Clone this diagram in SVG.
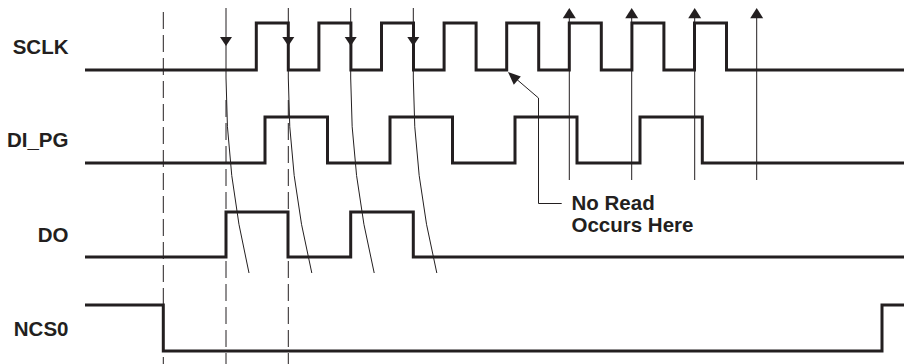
<svg xmlns="http://www.w3.org/2000/svg" width="904" height="364" viewBox="0 0 904 364">
<defs>
<style>
.sig{fill:none;stroke:#231f20;stroke-width:3;stroke-linejoin:miter}
.thin{fill:none;stroke:#231f20;stroke-width:1}
.dash{fill:none;stroke:#231f20;stroke-width:1;stroke-dasharray:17 6}
.lbl{font-family:"Liberation Sans",Arial,sans-serif;font-weight:bold;font-size:20.5px;fill:#231f20}
.ah{fill:#231f20}
</style>
</defs>
<rect width="904" height="364" fill="#ffffff"/>
<g id="SCLK">
<text class="lbl" x="68.5" y="54" text-anchor="end">SCLK</text>
<path class="sig" d="M85,70 H256.3 V23 H288.3 V70 H318.9 V23 H350.9 V70 H381.5 V23 H413.5 V70 H444.1 V23 H476.1 V70 H506.7 V23 H538.7 V70 H569.3 V23 H601.3 V70 H631.9 V23 H663.9 V70 H694.5 V23 H726.5 V70 H904"/>
</g>
<g id="DI_PG">
<text class="lbl" x="68.5" y="147.3" text-anchor="end">DI_PG</text>
<path class="sig" d="M85,163 H265 V117 H327.5 V163 H390 V117 H452.5 V163 H515 V117 H577 V163 H640 V117 H702.3 V163 H904"/>
</g>
<g id="DO">
<text class="lbl" x="68.5" y="242.3" text-anchor="end">DO</text>
<path class="sig" d="M85,257 H226 V212 H288 V257 H350.7 V212 H413.3 V257 H904"/>
</g>
<g id="NCS0">
<text class="lbl" x="68.5" y="336" text-anchor="end">NCS0</text>
<path class="sig" d="M85,305 H163.3 V351 H882 V305 H904"/>
</g>
<g id="note">
<text class="lbl" x="571.5" y="210">No Read</text>
<text class="lbl" x="571.5" y="231.7">Occurs Here</text>
</g>
<g id="connectors">
<path class="dash" d="M163.3,12 V364"/>
<path class="dash" d="M226,100 V364"/>
<path class="dash" d="M288.3,100 V364"/>
<path class="thin" d="M226,8 V78 Q226,175.5 249,273"/>
<path class="thin" d="M288.3,8 V78 Q288.3,175.5 311.8,273"/>
<path class="thin" d="M350.7,8 V78 Q350.7,175.5 374.2,273"/>
<path class="thin" d="M413.3,8 V78 Q413.3,175.5 436.8,273"/>
<polygon class="ah" points="220,37 232,37 226,46"/>
<polygon class="ah" points="282.3,37 294.3,37 288.3,46"/>
<polygon class="ah" points="344.7,37 356.7,37 350.7,46"/>
<polygon class="ah" points="407.3,37 419.3,37 413.3,46"/>
<path class="thin" d="M569.3,17 V180"/>
<path class="thin" d="M631.7,17 V180"/>
<path class="thin" d="M694.7,17 V180"/>
<path class="thin" d="M756.7,17 V180"/>
<polygon class="ah" points="569.3,8 562.8,18.3 575.8,18.3"/>
<polygon class="ah" points="631.7,8 625.2,18.3 638.2,18.3"/>
<polygon class="ah" points="694.7,8 688.2,18.3 701.2,18.3"/>
<polygon class="ah" points="756.7,8 750.2,18.3 763.2,18.3"/>
<path class="thin" d="M561.7,203.5 H538.5 V98 L514,77"/>
<polygon class="ah" points="508,72 520.8,76.6 513.8,84.8"/>
</g>
</svg>
